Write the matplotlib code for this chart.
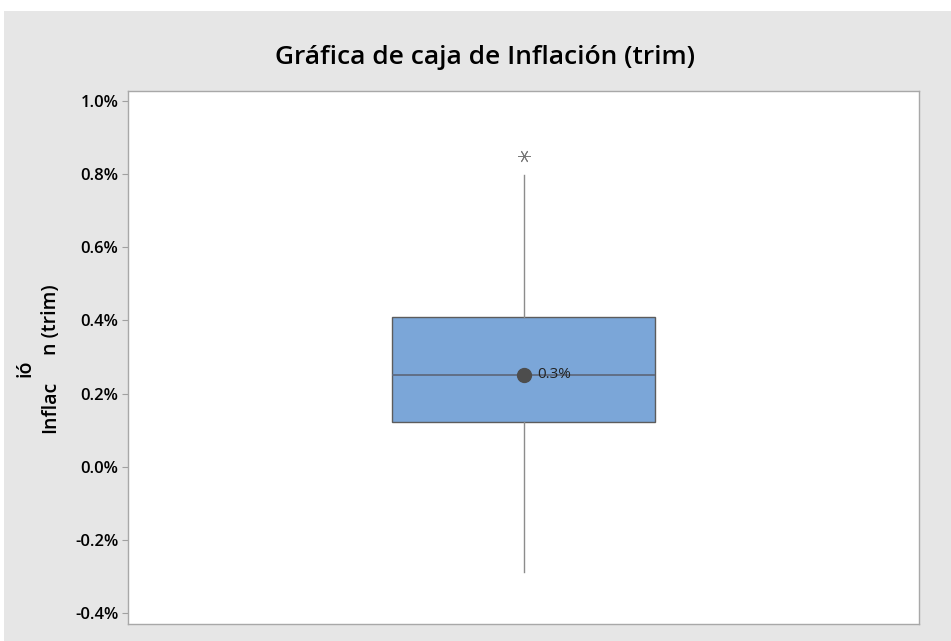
import matplotlib.pyplot as plt
from matplotlib.patches import Rectangle

## Datos de la gráfica (valores en %)
q1 = 0.123
mediana = 0.252
q3 = 0.408
media = 0.252
bigote_inf = -0.288
bigote_sup = 0.798
atipicos = [0.848]
etiqueta_media = "0.3%"
ticks_y = [-0.4, -0.2, 0.0, 0.2, 0.4, 0.6, 0.8, 1.0]

plt.rcParams['font.family'] = ['Open Sans', 'DejaVu Sans']

fig = plt.figure(figsize=(9.51, 6.41), dpi=100)
fig.patch.set_facecolor('white')
# panel gris de fondo
fig.patches.append(Rectangle((4/951, 0), 1, (641-11)/641, transform=fig.transFigure,
                             facecolor='#E6E6E6', edgecolor='none', zorder=-10))

ax = fig.add_axes([128/951, 1-624/641, (919-128)/951, (624-91)/641])
ax.set_facecolor('white')

stats = [{'q1': q1, 'med': mediana, 'q3': q3, 'mean': media,
          'whislo': bigote_inf, 'whishi': bigote_sup, 'fliers': atipicos}]
ax.bxp(stats, positions=[0], widths=0.333, showmeans=True, showcaps=False,
       patch_artist=True,
       boxprops=dict(facecolor='#7BA6D8', edgecolor='#5C5C5C', linewidth=1.0),
       medianprops=dict(color='#5F6B80', linewidth=1.3),
       whiskerprops=dict(color='#8C8C8C', linewidth=1.0),
       meanprops=dict(marker='o', markerfacecolor='#4D4D4D', markeredgecolor='#4D4D4D',
                      markersize=10),
       flierprops=dict(marker=(6, 2, 90), markeredgecolor='#7A7A7A', markersize=9,
                       markeredgewidth=0.7))
ax.annotate(etiqueta_media, xy=(0, media), xytext=(10, 0), textcoords='offset points',
            va='center', ha='left', fontsize=11, color='#222222')

ax.set_xlim(-0.5, 0.5)
ax.set_ylim(-0.43, 1.027)
ax.set_xticks([])
ax.set_yticks(ticks_y)
ax.set_yticklabels(['%.1f%%' % v for v in ticks_y], fontsize=12, fontweight='semibold')
ax.tick_params(axis='y', length=4, color='#A0A0A0', pad=3)
for s in ax.spines.values():
    s.set_color('#A8A8A8')
    s.set_linewidth(1.0)

fig.text(485/951, 1-57/641, 'Gráfica de caja de Inflación (trim)', ha='center', va='center',
         fontsize=19, fontweight='semibold')
# etiqueta del eje y (tal como aparece, partida)
fig.text(50/951, 1-407/641, 'Inflac', rotation=90, ha='center', va='center',
         fontsize=14, fontweight='semibold')
fig.text(51/951, 1-320/641, 'n (trim)', rotation=90, ha='center', va='center',
         fontsize=14, fontweight='semibold')
fig.text(26/951, 1-368/641, 'ió', rotation=90, ha='center', va='center',
         fontsize=14, fontweight='semibold')

plt.savefig('out.png', dpi=100)
